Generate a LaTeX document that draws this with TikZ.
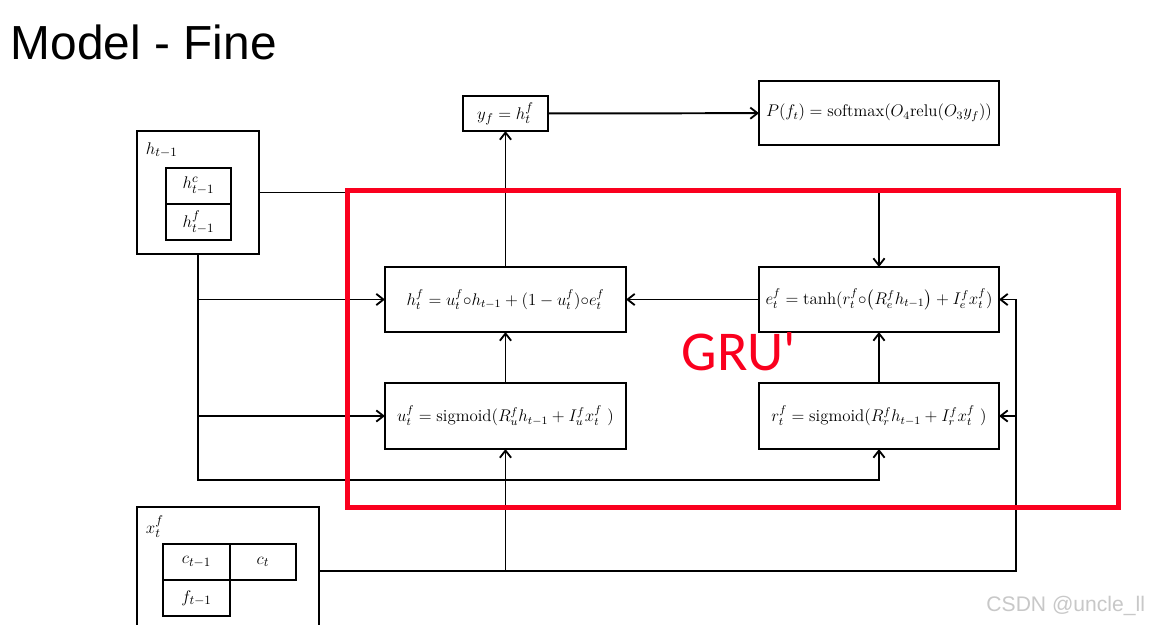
\documentclass[tikz,border=0pt]{standalone}
\usepackage{fontspec}
\usepackage{amsmath}
\usetikzlibrary{positioning,arrows.meta,calc}
\newfontfamily\titlefont{Liberation Sans}
\newfontfamily\grufont{Carlito}
\definecolor{grured}{RGB}{250,0,30}
\definecolor{markgray}{RGB}{200,200,200}
\tikzset{
  blk/.style={draw, line width=1.4pt, inner sep=0pt, outer sep=0pt, font=\fontsize{12}{14}\selectfont},
  cell/.style={blk, minimum width=1.625cm, minimum height=0.9cm},
  gate/.style={blk, minimum width=6.025cm, minimum height=1.65cm},
  wire/.style={line width=1.4pt},
  flow/.style={wire, -{Straight Barb[length=1.8mm,width=2.8mm,line width=1.3pt]}}
}
\begin{document}
\begin{tikzpicture}[x=0.025cm, y=-0.025cm]
\useasboundingbox (0,0) rectangle (1153,625);
\clip (0,0) rectangle (1153,625);
\fill[white] (0,0) rectangle (1153,625);

% Title
\node[anchor=west, font=\titlefont\fontsize{34}{38}\selectfont] (title) at (6,42) {Model - Fine};

% Inputs
\node[blk, minimum width=3.05cm, minimum height=3.075cm] (hprev) at (198,192.5) {};
\node[anchor=west, font=\fontsize{12.5}{14}\selectfont] (hlbl) at (141,150) {$h_{t-1}$};
\node[cell, font=\fontsize{12.5}{14}\selectfont] (hc) at (198.5,186) {$h^{c}_{t-1}$};
\node[cell, font=\fontsize{12.5}{14}\selectfont] (hf) at (198.5,222) {$h^{f}_{t-1}$};

\node[blk, minimum width=4.55cm, minimum height=3.325cm] (xin) at (228,573.5) {};
\node[anchor=west, font=\fontsize{12.5}{14}\selectfont] (xlbl) at (141,527) {$x^{f}_{t}$};
\node[cell, minimum width=1.675cm, font=\fontsize{12.5}{14}\selectfont] (cprev) at (196.5,562) {$c_{t-1}$};
\node[cell, minimum width=1.65cm, font=\fontsize{12.5}{14}\selectfont] (ccur) at (263,562) {$c_{t}$};
\node[cell, minimum width=1.675cm, font=\fontsize{12.5}{14}\selectfont] (fprev) at (196.5,598) {$f_{t-1}$};

% Output
\node[blk, minimum width=2.125cm, minimum height=0.875cm, font=\fontsize{12.5}{14}\selectfont] (yf) at (505.5,113.5) {$y_f = h^{f}_{t}$};
\node[blk, minimum width=6cm, minimum height=1.6cm] (prob) at (879,113) {$P(f_t) = \mathrm{softmax}(O_4\mathrm{relu}(O_3 y_f))$};

% GRU' cells
\node[gate, minimum height=1.625cm] (hnew) at (505.5,299.5) {$h^{f}_{t} = u^{f}_{t}{\circ}h_{t-1} + (1-u^{f}_{t}){\circ}e^{f}_{t}$};
\node[gate, minimum width=6cm, minimum height=1.625cm] (enew) at (879,299.5) {$e^{f}_{t} = \tanh(r^{f}_{t}{\circ}\big(R^{f}_{e}h_{t-1}\big) + I^{f}_{e}x^{f}_{t})$};
\node[gate] (ugate) at (505.5,416) {$u^{f}_{t} = \mathrm{sigmoid}(R^{f}_{u}h_{t-1} + I^{f}_{u}x^{f}_{t}\ )$};
\node[gate, minimum width=6cm] (rgate) at (879,416) {$r^{f}_{t} = \mathrm{sigmoid}(R^{f}_{r}h_{t-1} + I^{f}_{r}x^{f}_{t}\ )$};

% Connectors
\draw[flow] (yf) -- (prob);
\draw[flow] (hnew) -- (yf);
\draw[flow] (ugate) -- (hnew);
\draw[flow] (rgate) -- (enew);
\draw[flow] (enew) -- (hnew);
\draw[flow] (hprev.east) -| (enew.north);

% h_{t-1} feed
\coordinate (hlow) at (198,480);
\draw[flow] (hprev.south) -- (hlow) -| (rgate.south);
\draw[flow] (hprev.south |- hnew.west) -- (hnew.west);
\draw[flow] (hprev.south |- ugate.west) -- (ugate.west);

% x_t feed
\coordinate (xout) at (319,571);
\coordinate (xcorner) at (1016,571);
\draw[flow] (xout) -- (xcorner) |- (enew.east);
\draw[flow] (xcorner |- rgate.east) -- (rgate.east);
\draw[flow] (ugate.south |- xout) -- (ugate.south);

% GRU' frame
\draw[grured, line width=0.125cm] (347,190) rectangle (1118,507);
\node[text=grured, font=\grufont\fontsize{40}{44}\selectfont] (gru) at (739,352) {GRU'};

% Watermark
\node[anchor=east, text=markgray, font=\titlefont\fontsize{15}{17}\selectfont] (mark) at (1150,606) {CSDN @uncle\_ll};
\end{tikzpicture}
\end{document}
